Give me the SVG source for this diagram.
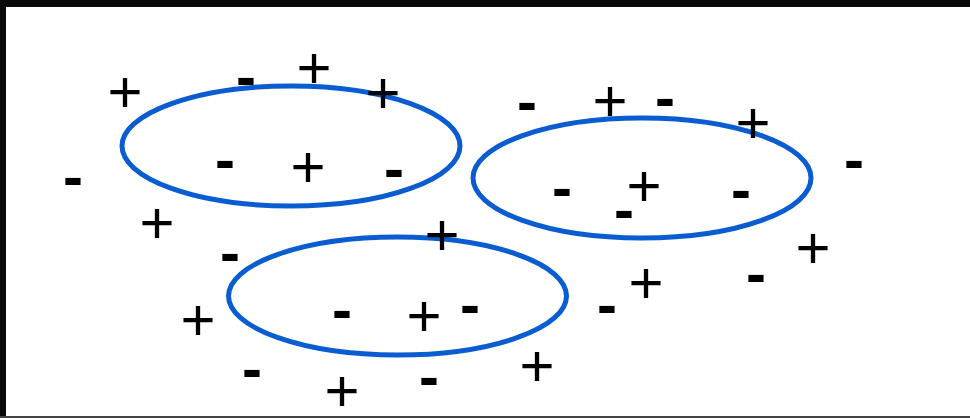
<svg xmlns="http://www.w3.org/2000/svg" width="970" height="418" viewBox="0 0 970 418">
<style>
.cl{fill:none;stroke:#0a5dd0;stroke-width:5}
.p{font-family:"Liberation Sans",Arial,sans-serif;font-size:60px;fill:#000;text-anchor:middle}
.m{font-family:"Liberation Sans",Arial,sans-serif;font-size:60px;font-weight:bold;fill:#000;text-anchor:middle}
</style>
<rect x="0" y="0" width="970" height="418" fill="#fff"/>
<rect x="0" y="0" width="970" height="7" fill="#0a0a0a"/>
<rect x="0" y="0" width="6" height="418" fill="#0a0a0a"/>
<rect x="0" y="416" width="970" height="2" fill="#444"/>
<g id="clusters">
<ellipse id="c1" class="cl" cx="291" cy="146" rx="169" ry="60"/>
<ellipse id="c2" class="cl" cx="642" cy="178" rx="169" ry="60"/>
<ellipse id="c3" class="cl" cx="397.5" cy="296" rx="169" ry="59"/>
</g>
<g id="plus">
<text class="p" x="125" y="112">+</text>
<text class="p" x="314" y="88">+</text>
<text class="p" x="383" y="113">+</text>
<text class="p" x="308" y="187">+</text>
<text class="p" x="157" y="243">+</text>
<text class="p" x="610" y="121">+</text>
<text class="p" x="753" y="143">+</text>
<text class="p" x="644" y="206">+</text>
<text class="p" x="813" y="268">+</text>
<text class="p" x="442" y="255">+</text>
<text class="p" x="198" y="340">+</text>
<text class="p" x="424" y="336">+</text>
<text class="p" x="537" y="386">+</text>
<text class="p" x="342" y="411">+</text>
<text class="p" x="646" y="303">+</text>
</g>
<g id="minus">
<text class="m" x="246" y="97">-</text>
<text class="m" x="225" y="180">-</text>
<text class="m" x="394" y="189">-</text>
<text class="m" x="73" y="197">-</text>
<text class="m" x="527" y="122">-</text>
<text class="m" x="665" y="118">-</text>
<text class="m" x="854" y="180">-</text>
<text class="m" x="562" y="208">-</text>
<text class="m" x="741" y="210">-</text>
<text class="m" x="624" y="230">-</text>
<text class="m" x="230" y="273">-</text>
<text class="m" x="342" y="330">-</text>
<text class="m" x="470" y="325">-</text>
<text class="m" x="252" y="389">-</text>
<text class="m" x="429" y="397">-</text>
<text class="m" x="607" y="325">-</text>
<text class="m" x="756" y="294">-</text>
</g>
</svg>
